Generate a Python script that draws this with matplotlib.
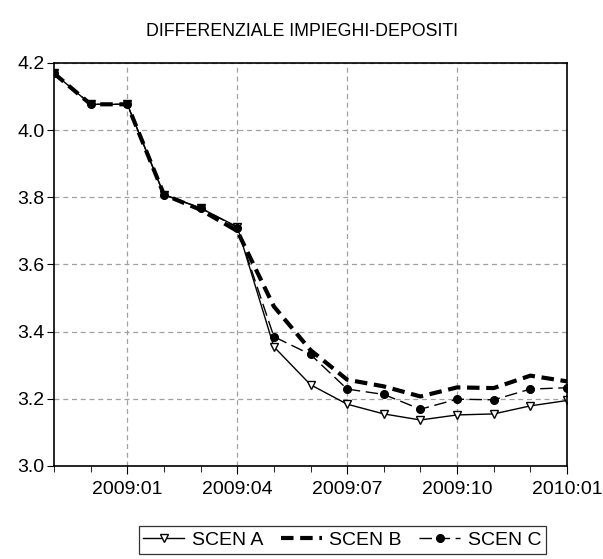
import matplotlib
matplotlib.use("Agg")
import matplotlib.pyplot as plt
from matplotlib.ticker import FixedLocator, MultipleLocator

plt.rcParams['font.family'] = ['Liberation Sans', 'DejaVu Sans']

months = ['2008:11', '2008:12', '2009:01', '2009:02', '2009:03', '2009:04',
          '2009:05', '2009:06', '2009:07', '2009:08', '2009:09', '2009:10',
          '2009:11', '2009:12', '2010:01']
scen_a = [4.169, 4.077, 4.077, 3.808, 3.768, 3.712, 3.355, 3.242, 3.184,
          3.155, 3.137, 3.152, 3.155, 3.179, 3.195]
scen_b = [4.169, 4.077, 4.077, 3.808, 3.763, 3.700, 3.475, 3.345, 3.257,
          3.237, 3.207, 3.234, 3.232, 3.269, 3.252]
scen_c = [4.169, 4.077, 4.077, 3.808, 3.768, 3.710, 3.385, 3.332, 3.229,
          3.213, 3.169, 3.199, 3.197, 3.229, 3.233]
tick_labels = ['2009:01', '2009:04', '2009:07', '2009:10', '2010:01']

x = list(range(len(months)))
major_x = [months.index(t) for t in tick_labels]

fig = plt.figure(figsize=(6.03, 5.59), dpi=100)
ax = fig.add_axes([0.0896, 0.1664, 0.8507, 0.7209])

ax.plot(x, scen_a, color='black', lw=1.0, marker='v', markersize=6,
        markerfacecolor='white', markeredgecolor='black', label='SCEN A')
ax.plot(x, scen_b, color='black', lw=3.0, dashes=(3.0, 1.6), label='SCEN B')
ax.plot(x, scen_c, color='black', lw=1.0, dashes=(9, 4), marker='o',
        markersize=5.5, label='SCEN C')

ax.set_xlim(0, len(months) - 1)
ax.set_ylim(3.0, 4.2)
ax.yaxis.set_major_locator(MultipleLocator(0.2))
ax.yaxis.set_major_formatter(matplotlib.ticker.FormatStrFormatter('%.1f'))
ax.xaxis.set_major_locator(FixedLocator(major_x))
ax.xaxis.set_minor_locator(FixedLocator(x))
ax.set_xticklabels(tick_labels)

ax.grid(True, which='major', color='#a0a0a0', ls=(0, (4, 3)), lw=0.9)
ax.tick_params(which='both', direction='out', labelsize=14, color='black')
ax.tick_params(axis='x', which='major', length=6, pad=5)
ax.tick_params(axis='x', which='minor', length=4)
ax.tick_params(axis='y', length=5, pad=2)
for s in ax.spines.values():
    s.set_linewidth(1.2)

fig.text(0.5, 0.944, 'DIFFERENZIALE IMPIEGHI-DEPOSITI', ha='center',
         va='center', fontsize=12.8)

leg = fig.legend(loc='lower center', bbox_to_anchor=(0.568, -0.008), ncol=3,
                 fontsize=14, frameon=True, fancybox=False, handlelength=2.1,
                 columnspacing=0.9, handletextpad=0.4, borderpad=0.25)
leg.get_frame().set_edgecolor('black')
leg.get_frame().set_linewidth(0.9)

fig.savefig('out.png', dpi=100)
